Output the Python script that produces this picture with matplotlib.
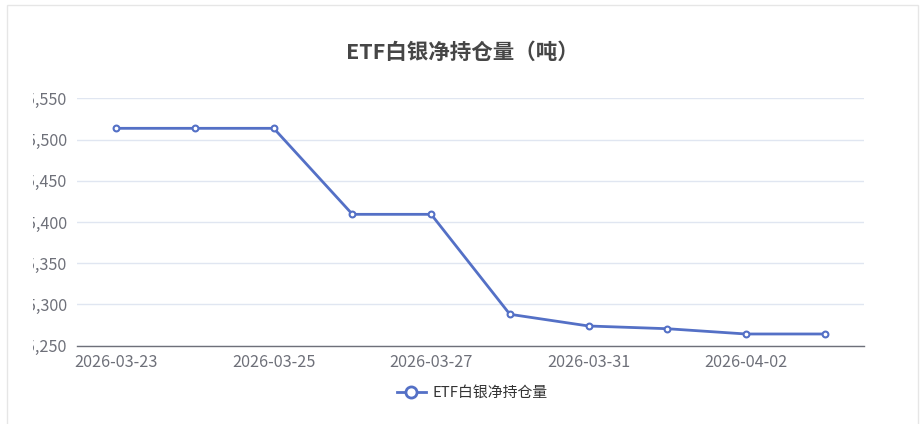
import matplotlib
matplotlib.use("Agg")
import matplotlib.pyplot as plt
from matplotlib.lines import Line2D
from matplotlib.patches import Rectangle
from matplotlib.transforms import Bbox, TransformedBbox

plt.rcParams['font.family'] = ['Noto Sans CJK SC', 'DejaVu Sans']

dates = ["2026-03-23", "2026-03-24", "2026-03-25", "2026-03-26", "2026-03-27",
         "2026-03-30", "2026-03-31", "2026-04-01", "2026-04-02", "2026-04-03"]
holdings = [15513.6, 15513.6, 15513.6, 15409.3, 15409.3,
            15288.1, 15273.9, 15270.6, 15264.2, 15264.2]
yticks = [15250, 15300, 15350, 15400, 15450, 15500, 15550]
title = "ETF白银净持仓量（吨）"
series_name = "ETF白银净持仓量"

W, H = 924, 424
fig = plt.figure(figsize=(W / 100, H / 100), dpi=100)
fig.patch.set_facecolor("white")

# card border
fig.patches.append(Rectangle((7.5 / W, -0.1), (918 - 7.5) / W, 1.1 - 5.5 / H,
                             transform=fig.transFigure, fill=False,
                             edgecolor="#e6e6e6", linewidth=1.0))

left, right = 77 / W, 864 / W
bottom, top = 1 - 345.7 / H, 1 - 98.3 / H
ax = fig.add_axes([left, bottom, right - left, top - bottom])

color = "#5470c6"
x = list(range(len(dates)))
ax.plot(x, holdings, color=color, linewidth=2, marker="o", markersize=4.2,
        markerfacecolor="white", markeredgecolor=color, markeredgewidth=1.5,
        zorder=3, clip_on=False)

ax.set_xlim(-0.5, len(dates) - 0.5)
ax.set_ylim(yticks[0], yticks[-1])
ax.set_yticks(yticks)
ax.set_yticklabels([f"{v:,}" for v in yticks])
ax.set_xticks(x[::2])
ax.set_xticklabels(dates[::2])

ax.grid(axis="y", color="#e0e6f1", linewidth=1)
ax.set_axisbelow(True)
for s in ["top", "right", "left"]:
    ax.spines[s].set_visible(False)
ax.spines["bottom"].set_color("#6e7079")
ax.spines["bottom"].set_linewidth(1)

ax.tick_params(axis="both", length=0, labelsize=11.7, labelcolor="#6e7079")
ax.tick_params(axis="y", pad=7)
ax.tick_params(axis="x", pad=6)

clip = TransformedBbox(Bbox([[32.5 / W, 0], [1, 1]]), fig.transFigure)
for lab in ax.get_yticklabels():
    lab.set_clip_on(True)
    lab.set_clip_box(clip)

fig.text(0.5, 1 - 52 / H, title, ha="center", va="center", fontsize=15.5,
         fontweight="bold", color="#464646")

handle = Line2D([0], [0], color=color, linewidth=2, marker="o", markersize=8,
                markerfacecolor="white", markeredgecolor=color, markeredgewidth=2)
leg = fig.legend([handle], [series_name], loc="center",
                 bbox_to_anchor=(472 / W, 1 - 393 / H), frameon=False,
                 fontsize=10.7, handlelength=2.0, handletextpad=0.4)
for t in leg.get_texts():
    t.set_color("#333333")

fig.savefig("out.png", dpi=100)
